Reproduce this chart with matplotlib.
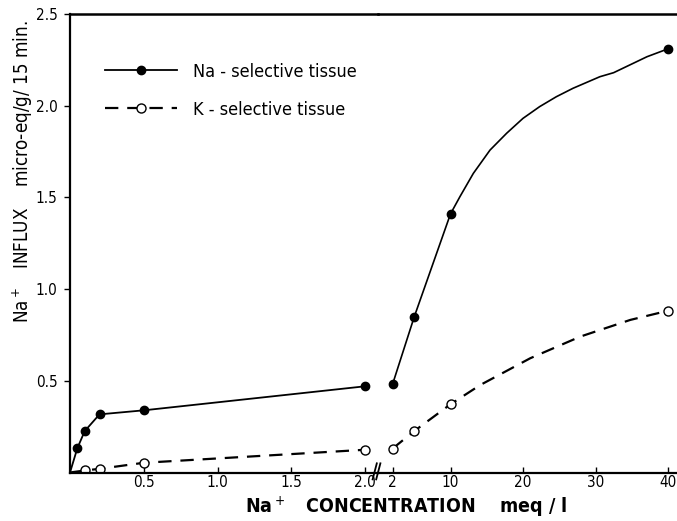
import numpy as np
import matplotlib
matplotlib.use("Agg")
import matplotlib.pyplot as plt

plt.rcParams['font.family'] = ['DejaVu Sans']
plt.rcParams['font.stretch'] = 'condensed'

# low concentration range (0 - 2.0 meq/l)
low_x_na = [0, 0.05, 0.1, 0.2, 0.5, 2.0]
low_y_na = [0, 0.133, 0.226, 0.317, 0.339, 0.47]
low_x_k = [0, 0.1, 0.2, 0.5, 2.0]
low_y_k = [0, 0.011, 0.02, 0.053, 0.124]

# high concentration range (2 - 40 meq/l), measured points
high_x_na = [2, 5, 10, 40]
high_y_na = [0.48, 0.849, 1.41, 2.31]
high_x_k = [2, 5, 10, 40]
high_y_k = [0.13, 0.226, 0.372, 0.882]

# hand drawn curves through the points
na_curve_x = [2, 5, 10, 11.3, 13.15, 15.45, 17.75, 20.0, 22.3, 24.6, 26.9, 30.6, 32.5, 37.1, 40]
na_curve_y = [0.48, 0.849, 1.41, 1.504, 1.631, 1.758, 1.85, 1.931, 1.995, 2.049, 2.095, 2.158, 2.18, 2.267, 2.31]
k_curve_x = [2, 5, 10, 14.1, 21.0, 27.9, 34.8, 40]
k_curve_y = [0.13, 0.226, 0.372, 0.477, 0.623, 0.741, 0.832, 0.882]

low_ticks = [0.5, 1.0, 1.5, 2.0]
high_ticks = [2, 10, 20, 30, 40]
y_ticks = [0.5, 1.0, 1.5, 2.0, 2.5]

W, H = 677, 521
fig = plt.figure(figsize=(W / 100, H / 100), dpi=100)
ax1 = fig.add_axes([70 / W, (H - 472.5) / H, 308 / W, 458.5 / H])
ax2 = fig.add_axes([378 / W, (H - 472.5) / H, 299 / W, 458.5 / H], sharey=ax1)
ax2.patch.set_visible(False)

dash = (0, (6, 4))
# left part
ax1.plot(low_x_na, low_y_na, color='black', lw=1.3, marker='o', ms=6,
         markevery=list(range(1, len(low_x_na))), label='Na - selective tissue')
ax1.plot(low_x_k, low_y_k, color='black', lw=1.6, ls=dash, marker='o', ms=6.5,
         mfc='white', mew=1.0, markevery=list(range(1, len(low_x_k))),
         label='K - selective tissue')
# right part
ax2.plot(na_curve_x, na_curve_y, color='black', lw=1.2)
ax2.plot(high_x_na, high_y_na, ls='none', marker='o', ms=6, color='black')
ax2.plot(k_curve_x, k_curve_y, color='black', lw=1.6, ls=dash)
ax2.plot(high_x_k, high_y_k, ls='none', marker='o', ms=6.5, mfc='white', mec='black', mew=1.0)

ax1.set_xlim(0, 308 / 147.5)
ax2.set_xlim(0, 299 / 7.25)
ax1.set_ylim(0, 2.5)

for a in (ax1, ax2):
    a.spines['top'].set_linewidth(1.8)
    a.spines['bottom'].set_linewidth(1.6)
    a.tick_params(axis='x', direction='in', length=4, width=1, pad=1.5, labelsize=11)
ax1.spines['right'].set_visible(False)
ax1.spines['left'].set_linewidth(1.6)
ax2.spines['left'].set_visible(False)
ax2.spines['right'].set_visible(False)
ax2.tick_params(axis='y', left=False, labelleft=False)

ax1.set_xticks(low_ticks)
ax1.set_xticklabels(['0.5', '1.0', '1.5', '2.0'])
ax2.set_xticks(high_ticks)
ax2.set_xticklabels([str(t) for t in high_ticks])
ax1.set_yticks(y_ticks)
ax1.set_yticklabels(['0.5', '1.0', '1.5', '2.0', '2.5'])
ax1.tick_params(axis='y', direction='out', length=4, width=1, pad=5, labelsize=11)

# axis break marks
for dx in (-0.012, 0.0):
    ax2.plot([dx - 0.006, dx + 0.008], [-0.015, 0.02], transform=ax2.transAxes,
             color='black', lw=1.3, clip_on=False)

leg = ax1.legend(loc='upper left', bbox_to_anchor=(0.06, 0.929), frameon=False,
                 handlelength=4.0, handletextpad=0.9, labelspacing=1.1,
                 prop={'size': 13})

fig.text(406 / W, 1 - 507 / H, 'Na$^+$   CONCENTRATION    meq / l', ha='center', va='center',
         fontsize=14, fontweight='bold')
fig.text(23 / W, 1 - 172 / H, 'Na$^+$   INFLUX    micro-eq/g/ 15 min.', ha='center', va='center',
         rotation=90, fontsize=13.5)

fig.savefig('out.png', dpi=100)
